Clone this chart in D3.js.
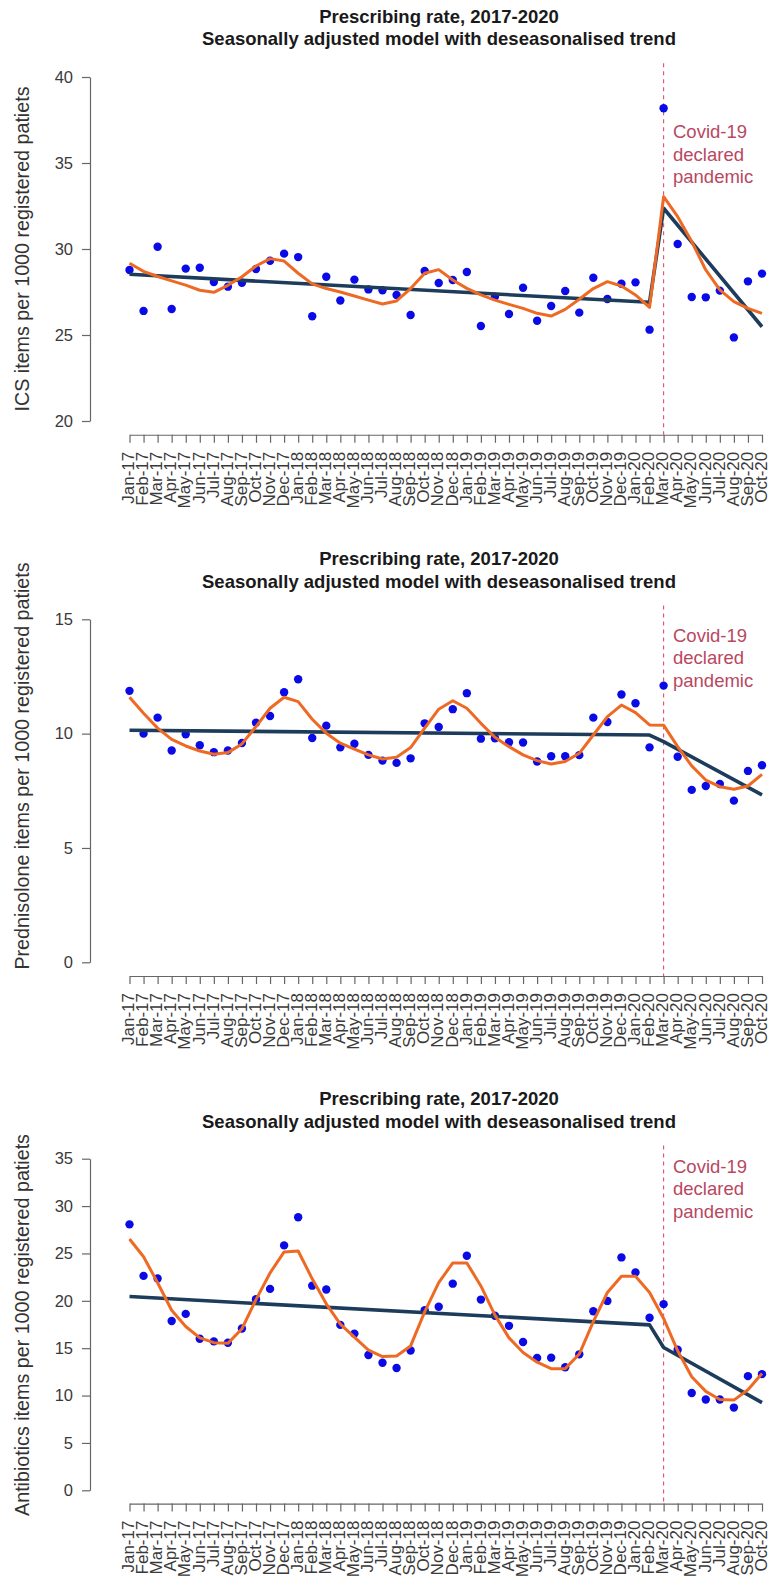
<!DOCTYPE html>
<html>
<head>
<meta charset="utf-8">
<script src="https://cdn.jsdelivr.net/npm/d3@7"></script>
<style>
    body { margin: 0; background: #ffffff; }
    svg text { font-family: "Liberation Sans", Arial, Helvetica, sans-serif; }
</style>
</head>
<body>
<div id="chart"></div>
<script>

// months on the x axis (Jan-17 .. Oct-20)
const months = ["Jan-17","Feb-17","Mar-17","Apr-17","May-17","Jun-17","Jul-17","Aug-17","Sep-17","Oct-17","Nov-17","Dec-17",
    "Jan-18","Feb-18","Mar-18","Apr-18","May-18","Jun-18","Jul-18","Aug-18","Sep-18","Oct-18","Nov-18","Dec-18",
    "Jan-19","Feb-19","Mar-19","Apr-19","May-19","Jun-19","Jul-19","Aug-19","Sep-19","Oct-19","Nov-19","Dec-19",
    "Jan-20","Feb-20","Mar-20","Apr-20","May-20","Jun-20","Jul-20","Aug-20","Sep-20","Oct-20"];

// ICS
const icsRate = [28.78, 26.40, 30.13, 26.51, 28.86, 28.91, 28.08, 27.81, 28.04, 28.84, 29.32, 29.73,
    29.53, 26.09, 28.39, 27.01, 28.22, 27.65, 27.60, 27.33, 26.16, 28.72, 28.02, 28.20,
    28.66, 25.52, 27.23, 26.22, 27.75, 25.83, 26.69, 27.56, 26.30, 28.33, 27.09, 27.98,
    28.06, 25.31, 38.18, 30.29, 27.21, 27.19, 27.58, 24.86, 28.12, 28.57];
const icsFit = [29.17, 28.70, 28.40, 28.15, 27.90, 27.60, 27.48, 27.89, 28.39, 29.01, 29.44, 29.30,
    28.59, 27.97, 27.70, 27.50, 27.27, 27.03, 26.80, 26.98, 27.70, 28.59, 28.80, 28.20,
    27.71, 27.33, 27.03, 26.78, 26.55, 26.26, 26.10, 26.49, 27.08, 27.70, 28.10, 27.85,
    27.33, 26.61, 33.04, 31.88, 30.43, 28.78, 27.62, 26.94, 26.55, 26.26];
const icsTrend = [28.53, 26.90, 32.37, 25.48];

// Prednisolone
const predRate = [11.87, 10.00, 10.70, 9.26, 9.97, 9.49, 9.19, 9.26, 9.59, 10.48, 10.77, 11.81,
    12.38, 9.81, 10.35, 9.40, 9.56, 9.07, 8.82, 8.72, 8.92, 10.45, 10.29, 11.07,
    11.77, 9.78, 9.80, 9.62, 9.61, 8.78, 9.01, 9.01, 9.06, 10.70, 10.51, 11.71,
    11.33, 9.40, 12.10, 8.99, 7.54, 7.71, 7.80, 7.07, 8.37, 8.62];
const predFit = [11.59, 10.89, 10.24, 9.75, 9.46, 9.24, 9.10, 9.17, 9.55, 10.31, 11.11, 11.59,
    11.40, 10.63, 10.02, 9.58, 9.32, 9.07, 8.89, 8.97, 9.39, 10.24, 11.07, 11.44,
    11.11, 10.45, 9.84, 9.43, 9.07, 8.82, 8.67, 8.78, 9.14, 9.94, 10.74, 11.25,
    10.92, 10.38, 10.37, 9.43, 8.59, 7.97, 7.68, 7.57, 7.71, 8.22];
const predTrend = [10.15, 9.94, 9.65, 7.32];

// Antibiotics
const antiRate = [28.07, 22.63, 22.36, 17.87, 18.62, 15.99, 15.72, 15.58, 17.08, 20.17, 21.26, 25.85,
    28.82, 21.60, 21.19, 17.46, 16.54, 14.28, 13.46, 12.91, 14.76, 19.00, 19.38, 21.81,
    24.75, 20.13, 18.42, 17.36, 15.65, 13.97, 14.00, 12.98, 14.35, 18.90, 19.99, 24.58,
    23.00, 18.21, 19.65, 14.83, 10.27, 9.59, 9.59, 8.73, 12.05, 12.26];
const antiFit = [26.53, 24.65, 21.91, 19.00, 17.29, 16.09, 15.58, 15.51, 17.05, 20.13, 22.94, 25.16,
    25.26, 22.32, 19.68, 17.53, 16.16, 14.79, 14.11, 14.18, 15.24, 18.83, 21.91, 24.00,
    24.00, 21.57, 18.49, 16.09, 14.55, 13.52, 12.84, 12.84, 14.38, 17.80, 20.88, 22.60,
    22.60, 20.88, 18.14, 14.72, 11.98, 10.44, 9.59, 9.52, 10.61, 12.33];
const antiTrend = [20.45, 17.46, 15.07, 9.25];

// segmented trend: knots at these month indices
const trendKnots = [0, 37, 38, 45];
const covidMonth = "Mar-20";

const titleLines = ["Prescribing rate, 2017-2020", "Seasonally adjusted model with deseasonalised trend"];
const covidLines = ["Covid-19", "declared", "pandemic"];


class TrendPanel {

    constructor(svg, data, config) {
        this.svg = svg;
        this.data = data;
        this.config = config;
        this.initVis();
    }

    initVis() {
        let vis = this;
        let cfg = vis.config;

        vis.g = vis.svg.append("g").attr("class", "panel");

        vis.x = d3.scalePoint()
            .domain(months)
            .range([129.5, 762]);

        vis.y = d3.scaleLinear()
            .domain([cfg.ticks[0], cfg.ticks[cfg.ticks.length - 1]])
            .range([cfg.yBottom, cfg.yTop]);

        // R style plot region (4% extension)
        let ext = (cfg.yBottom - cfg.yTop) * 0.04;
        vis.plotTop = cfg.yTop - ext;
        vis.axisY = cfg.yBottom + ext;

        // titles
        vis.g.selectAll(".title")
            .data(titleLines)
            .enter()
            .append("text")
            .attr("class", "title")
            .attr("x", 439)
            .attr("y", (d, i) => cfg.titleY + i * 22.5)
            .attr("text-anchor", "middle")
            .attr("font-weight", "bold")
            .attr("font-size", "18.5px")
            .attr("fill", "#1a1a1a")
            .text(d => d);

        // y axis
        vis.yAxis = d3.axisLeft(vis.y)
            .tickValues(cfg.ticks)
            .tickSize(8)
            .tickSizeOuter(0)
            .tickPadding(9);

        vis.g.append("g")
            .attr("class", "y-axis axis")
            .attr("transform", "translate(90,0)")
            .call(vis.yAxis);

        // x axis
        vis.xAxis = d3.axisBottom(vis.x)
            .tickSize(8)
            .tickSizeOuter(0);

        let xg = vis.g.append("g")
            .attr("class", "x-axis axis")
            .attr("transform", "translate(0," + vis.axisY + ")")
            .call(vis.xAxis);

        xg.selectAll("text")
            .attr("transform", "rotate(-90)")
            .attr("text-anchor", "end")
            .attr("x", -17)
            .attr("y", 0)
            .attr("dy", "0.25em")
            .attr("font-size", "17px");

        vis.g.selectAll(".axis path, .axis line")
            .attr("stroke", "#666")
            .attr("stroke-width", 1.2);
        vis.g.selectAll(".y-axis text")
            .attr("font-size", "16.5px");
        vis.g.selectAll(".axis text")
            .attr("fill", "#3a3a3a");

        // y axis title
        vis.g.append("text")
            .attr("transform", "translate(29," + cfg.labelY + ")rotate(-90)")
            .attr("text-anchor", "middle")
            .attr("font-size", "19.7px")
            .attr("fill", "#333")
            .text(cfg.label);

        // covid line + note
        vis.g.append("line")
            .attr("x1", vis.x(covidMonth))
            .attr("x2", vis.x(covidMonth))
            .attr("y1", vis.plotTop)
            .attr("y2", vis.axisY)
            .attr("stroke", "#d9506a")
            .attr("stroke-width", 1.1)
            .attr("stroke-dasharray", "4,4");

        vis.g.selectAll(".note")
            .data(covidLines)
            .enter()
            .append("text")
            .attr("class", "note")
            .attr("x", 673)
            .attr("y", (d, i) => cfg.noteY + i * 22.5)
            .attr("font-size", "18.5px")
            .attr("fill", "#b8485f")
            .text(d => d);

        vis.updateVis();
    }

    updateVis() {
        let vis = this;

        let points = vis.data.rate.map((v, i) => ({ key: months[i], value: v }));
        let fit = vis.data.fit.map((v, i) => ({ key: months[i], value: v }));
        let trend = vis.data.trend.map((v, i) => ({ key: months[trendKnots[i]], value: v }));

        let line = d3.line()
            .x(d => vis.x(d.key))
            .y(d => vis.y(d.value));

        vis.g.selectAll(".dot")
            .data(points)
            .enter()
            .append("circle")
            .attr("class", "dot")
            .attr("cx", d => vis.x(d.key))
            .attr("cy", d => vis.y(d.value))
            .attr("r", 4.2)
            .attr("fill", "#0a0ae6");

        vis.g.append("path")
            .datum(trend)
            .attr("class", "trend")
            .attr("d", line)
            .attr("fill", "none")
            .attr("stroke", "#1d3c5c")
            .attr("stroke-width", 3.6)
            .attr("stroke-linejoin", "round");

        vis.g.append("path")
            .datum(fit)
            .attr("class", "fit")
            .attr("d", line)
            .attr("fill", "none")
            .attr("stroke", "#ee6a24")
            .attr("stroke-width", 3)
            .attr("stroke-linejoin", "round");
    }
}


let svg = d3.select("#chart").append("svg")
    .attr("width", 770)
    .attr("height", 1589);

new TrendPanel(svg, { rate: icsRate, fit: icsFit, trend: icsTrend }, {
    ticks: [20, 25, 30, 35, 40], yTop: 77, yBottom: 421,
    titleY: 22.5, labelY: 249, noteY: 138,
    label: "ICS items per 1000 registered patiets"
});

new TrendPanel(svg, { rate: predRate, fit: predFit, trend: predTrend }, {
    ticks: [0, 5, 10, 15], yTop: 619.3, yBottom: 962.3,
    titleY: 565, labelY: 766, noteY: 641.7,
    label: "Prednisolone items per 1000 registered patiets"
});

new TrendPanel(svg, { rate: antiRate, fit: antiFit, trend: antiTrend }, {
    ticks: [0, 5, 10, 15, 20, 25, 30, 35], yTop: 1158.7, yBottom: 1490.3,
    titleY: 1105, labelY: 1325, noteY: 1172.7,
    label: "Antibiotics items per 1000 registered patiets"
});

</script>
</body>
</html>
